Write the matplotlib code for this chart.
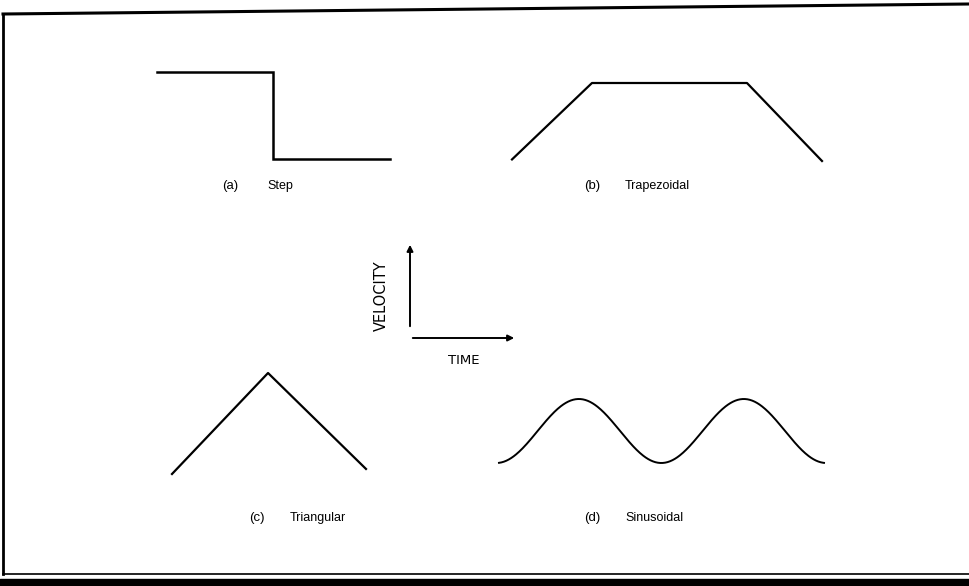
import numpy as np
import matplotlib
matplotlib.use('Agg')
import matplotlib.pyplot as plt

plt.rcParams['font.family'] = ['Liberation Sans', 'DejaVu Sans']

W, H = 969, 586

# velocity profiles (normalised time, normalised velocity)
step_t = [0, 0.498, 0.498, 1]
step_v = [1, 1, 0, 0]

trap_t = [0, 0.258, 0.758, 1]
trap_v = [0.02, 1, 1, 0]

tri_t = [0, 0.495, 1]
tri_v = [0, 1, 0.05]

sin_cycles = 2
sin_amp = 0.5

labels = ['(a)', '(b)', '(c)', '(d)']
names = ['Step', 'Trapezoidal', 'Triangular', 'Sinusoidal']

fig = plt.figure(figsize=(W / 100, H / 100), dpi=100)
bg = fig.add_axes([0, 0, 1, 1])
bg.set_xlim(0, W)
bg.set_ylim(H, 0)
bg.axis('off')

# scanned frame
bg.plot([3, W], [14, 4], color='black', lw=2.2)
bg.plot([3, 3], [14, 574], color='black', lw=2.0)
bg.plot([3, W], [574, 574], color='black', lw=1.2)
bg.fill_between([0, W], 579, H, color='black')


def panel(x0, x1, y0, y1):
    ax = fig.add_axes([x0 / W, 1 - y1 / H, (x1 - x0) / W, (y1 - y0) / H])
    ax.set_xlim(0, 1)
    ax.set_ylim(0, 1)
    ax.axis('off')
    return ax


ax = panel(157, 390, 72, 159)
ax.plot(step_t, step_v, color='black', lw=1.8, clip_on=False, solid_joinstyle='miter')

ax = panel(512, 822, 83, 161)
ax.plot(trap_t, trap_v, color='black', lw=1.6, clip_on=False)

ax = panel(172, 366, 373, 474)
ax.plot(tri_t, tri_v, color='black', lw=1.6, clip_on=False)

ax = panel(499, 824, 399, 463)
t = np.linspace(0, 1, 400)
ax.plot(t, sin_amp - sin_amp * np.cos(2 * np.pi * sin_cycles * (t * 0.985 + 0.008)),
        color='black', lw=1.4, clip_on=False)

# label rows
label_pos = [(230, 186), (592, 186), (257, 518), (592, 518)]
name_x = [267, 625, 290, 625]
for (lx, ly), nx, lab, nm in zip(label_pos, name_x, labels, names):
    bg.text(lx, ly, lab, fontsize=9.5, ha='center', va='center')
    bg.text(nx, ly, nm, fontsize=9, ha='left', va='center')

# velocity / time key
arrow = dict(arrowstyle='-|>', color='black', lw=1.4, mutation_scale=9)
bg.annotate('', xy=(410, 242), xytext=(410, 329), arrowprops=arrow)
bg.annotate('', xy=(517, 338), xytext=(410, 338), arrowprops=arrow)
bg.text(381, 296, 'VELOCITY', rotation=90, fontsize=10.5, ha='center', va='center',
        family='DejaVu Sans')
bg.text(464, 360, 'TIME', fontsize=9.5, ha='center', va='center', family='DejaVu Sans')

fig.savefig('out.png', dpi=100, facecolor='white')
